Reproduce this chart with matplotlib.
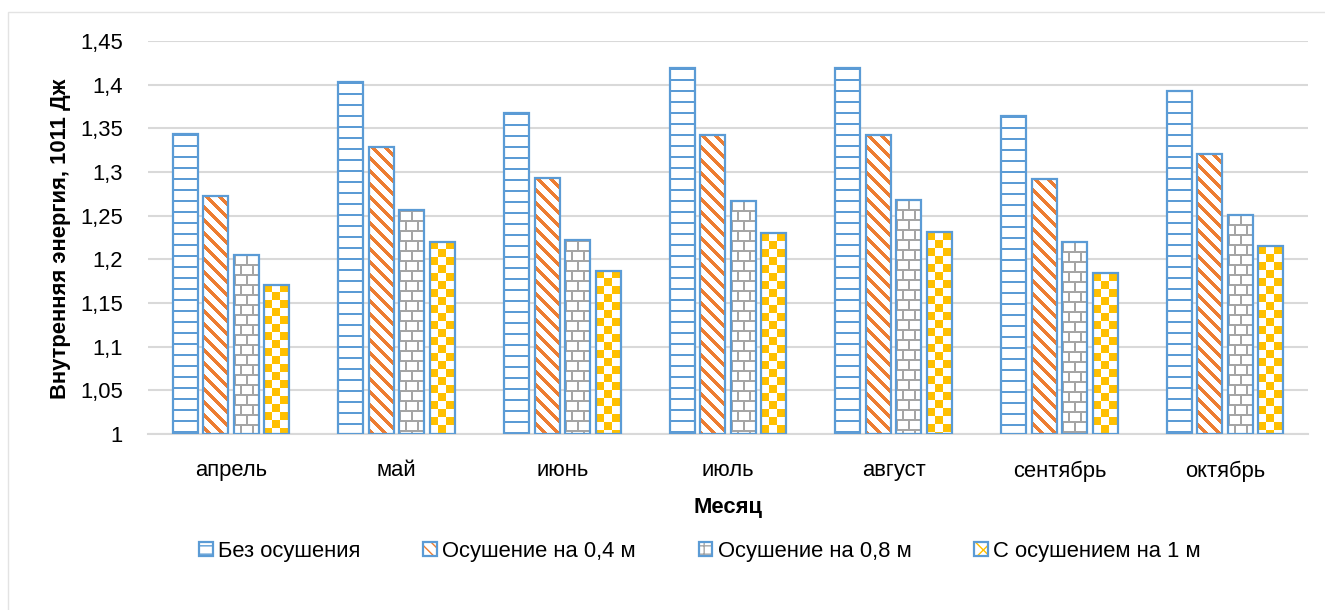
import numpy as np
import matplotlib
matplotlib.use("Agg")
import matplotlib.pyplot as plt
from matplotlib.patches import Rectangle
from matplotlib.legend_handler import HandlerTuple

plt.rcParams['font.family'] = ['Liberation Sans', 'DejaVu Sans']

# ---- data ----
months = ["апрель", "май", "июнь", "июль", "август", "сентябрь", "октябрь"]
no_drain = [1.343, 1.403, 1.367, 1.419, 1.419, 1.364, 1.393]
drain_04 = [1.273, 1.329, 1.293, 1.342, 1.342, 1.292, 1.321]
drain_08 = [1.205, 1.256, 1.222, 1.267, 1.268, 1.220, 1.251]
drain_10 = [1.171, 1.220, 1.187, 1.230, 1.231, 1.184, 1.215]
series_names = ["Без осушения", "Осушение на 0,4 м", "Осушение на 0,8 м", "С осушением на 1 м"]
y_ticks = [1.0, 1.05, 1.1, 1.15, 1.2, 1.25, 1.3, 1.35, 1.4, 1.45]
y_tick_labels = ["1", "1,05", "1,1", "1,15", "1,2", "1,25", "1,3", "1,35", "1,4", "1,45"]

BLUE = "#5B9BD5"
ORANGE = "#ED7D31"
GRAY = "#A5A5A5"
YELLOW = "#FFC000"
FS = 15.8


def hex_rgb(c):
    c = c.lstrip("#")
    return np.array([int(c[i:i + 2], 16) / 255 for i in (0, 2, 4)])


# ---- fill patterns, built in screen pixels ----
def pat_lines(h, w):
    img = np.ones((h, w, 3))
    r = np.arange(h)
    img[(r % 11) < 2] = hex_rgb(BLUE)
    return img


def pat_diag(h, w):
    img = np.ones((h, w, 3))
    r, c = np.mgrid[0:h, 0:w]
    img[((c - r) % 13) < 5] = hex_rgb(ORANGE)
    return img


def pat_brick(h, w):
    img = np.ones((h, w, 3))
    r, c = np.mgrid[0:h, 0:w]
    row = r // 10
    mask = ((r % 10) < 2) | (((c + 6 * (row % 2)) % 12) < 2)
    img[mask] = hex_rgb(GRAY)
    return img


def pat_check(h, w):
    img = np.ones((h, w, 3))
    r, c = np.mgrid[0:h, 0:w]
    img[((r // 8) + (c // 8)) % 2 == 0] = hex_rgb(YELLOW)
    return img


patterns = [pat_lines, pat_diag, pat_brick, pat_check]
series = [no_drain, drain_04, drain_08, drain_10]

# ---- figure ----
W, H = 1325, 610
fig = plt.figure(figsize=(W / 100, H / 100), dpi=100)
# chart-area frame
fig.patches.append(Rectangle((8 / W, -0.1), 1.2, 1 - 12 / H + 0.1, transform=fig.transFigure,
                             facecolor="none", edgecolor="#E3E3E3", lw=1.0, zorder=0))

ax_l, ax_r, ax_t, ax_b = 148, 1308, 41, 434
ax = fig.add_axes([ax_l / W, 1 - ax_b / H, (ax_r - ax_l) / W, (ax_b - ax_t) / H])
ax.set_xlim(-0.5, len(months) - 0.5)
ax.set_ylim(1.0, 1.45)

px_per_x = (ax_r - ax_l) / len(months)
px_per_y = (ax_b - ax_t) / 0.45

x = np.arange(len(months))
width = 0.151
step = 0.184

for i, (vals, pat, name) in enumerate(zip(series, patterns, series_names)):
    pos = x + (i - 1.5) * step
    bars = ax.bar(pos, np.array(vals) - 1.0, bottom=1.0, width=width, facecolor="none",
                  edgecolor=BLUE, linewidth=1.6, zorder=3, label=name)
    for b, v in zip(bars, vals):
        x0 = b.get_x()
        hpx = int(np.ceil((v - 1.0) * px_per_y))
        wpx = int(np.ceil(width * px_per_x))
        im = ax.imshow(pat(hpx, wpx), extent=(x0, x0 + width, 1.0, v), origin="upper",
                       interpolation="nearest", aspect="auto", zorder=2)
        im.set_clip_path(b)

ax.set_xlim(-0.5, len(months) - 0.5)
ax.set_ylim(1.0, 1.45)

ax.set_yticks(y_ticks)
ax.set_yticklabels(y_tick_labels)
ax.set_xticks(x)
ax.set_xticklabels(months)
ax.tick_params(axis="both", length=0, labelsize=FS, colors="#000000")
ax.tick_params(axis="y", pad=18)
ax.tick_params(axis="x", pad=19)

ax.grid(axis="y", color="#D9D9D9", lw=1.5)
ax.set_axisbelow(True)
for s in ["top", "right", "left"]:
    ax.spines[s].set_visible(False)
ax.spines["bottom"].set_color("#D9D9D9")
ax.spines["bottom"].set_linewidth(1.5)

fig.text(61 / W, 1 - 239 / H, "Внутренняя энергия, 1011 Дж", rotation=90, ha="center", va="center",
         fontsize=FS, fontweight="bold")
fig.text(728 / W, 1 - 507 / H, "Месяц", ha="center", va="center", fontsize=FS, fontweight="bold")

# legend handles: pattern swatch with the common blue outline on top
hatch_specs = [(BLUE, "--"), (ORANGE, "\\\\\\"), (GRAY, "++"), (YELLOW, "xx")]
handles = []
for col, hat in hatch_specs:
    fill = Rectangle((0, 0), 1, 1, facecolor="white", edgecolor=col, hatch=hat, lw=0)
    edge = Rectangle((0, 0), 1, 1, facecolor="none", edgecolor=BLUE, lw=1.6)
    handles.append((fill, edge))

fig.legend(handles, series_names, loc="center", bbox_to_anchor=(700 / W, 1 - 551 / H),
           ncol=4, frameon=False, fontsize=FS, handlelength=0.62, handleheight=0.62,
           handletextpad=0.25, columnspacing=2.85,
           handler_map={tuple: HandlerTuple(ndivide=1, pad=0)})

fig.savefig("out.png", dpi=100, facecolor="white")
